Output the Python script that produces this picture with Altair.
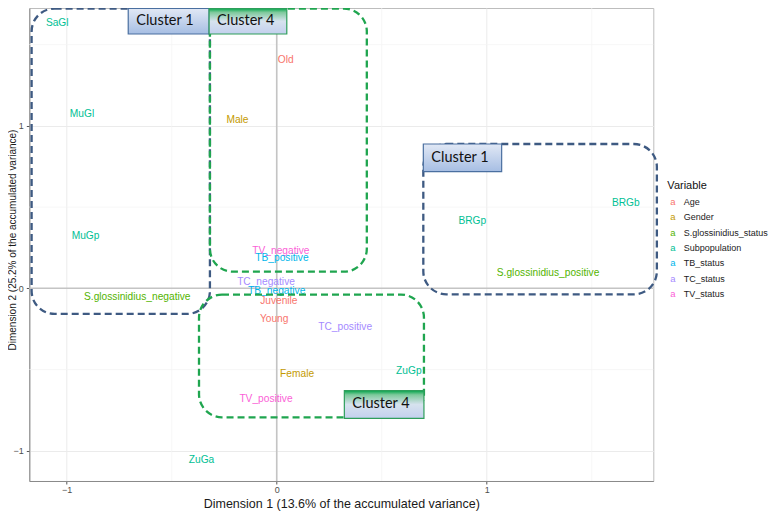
import altair as alt
import pandas as pd

# ---- data ----
labels = ["SaGl", "MuGl", "MuGp", "Old", "Male", "TV_negative", "TB_positive",
          "TC_negative", "TB_negative", "Juvenile", "Young", "TC_positive",
          "Female", "ZuGp", "TV_positive", "ZuGa", "S.glossinidius_negative",
          "BRGp", "BRGb", "S.glossinidius_positive"]
dim1 = [-1.045, -0.927, -0.910, 0.043, -0.187, 0.020, 0.025, -0.051, 0.000, 0.010,
        -0.012, 0.326, 0.097, 0.629, -0.051, -0.358, -0.664, 0.931, 1.662, 1.292]
dim2 = [1.631, 1.071, 0.324, 1.403, 1.038, 0.231, 0.185, 0.037, -0.015, -0.080,
        -0.191, -0.236, -0.526, -0.507, -0.681, -1.057, -0.052, 0.414, 0.527, 0.092]
variables = ["Subpopulation", "Subpopulation", "Subpopulation", "Age", "Gender",
             "TV_status", "TB_status", "TC_status", "TB_status", "Age", "Age",
             "TC_status", "Gender", "Subpopulation", "TV_status", "Subpopulation",
             "S.glossinidius_status", "Subpopulation", "Subpopulation",
             "S.glossinidius_status"]

legend_vars = ["Age", "Gender", "S.glossinidius_status", "Subpopulation",
               "TB_status", "TC_status", "TV_status"]
palette = ["#F8766D", "#C49A00", "#53B400", "#00C094", "#00B6EB", "#A58AFF", "#FB61D7"]

# cluster outlines (data units)
outline_group = ["blue", "green", "green", "blue"]
outline_x1 = [-1.167, -0.318, -0.370, 0.698]
outline_x2 = [-0.318, 0.429, 0.701, 1.810]
outline_y1 = [1.722, 1.722, -0.039, 0.888]
outline_y2 = [-0.158, 0.102, -0.794, -0.037]

# cluster tags (data units)
tag_text = ["Cluster 1", "Cluster 4", "Cluster 1", "Cluster 4"]
tag_group = ["blue", "green", "blue", "green"]
tag_x1 = [-0.707, -0.322, 0.698, 0.322]
tag_x2 = [-0.322, 0.048, 1.071, 0.701]
tag_y1 = [1.722, 1.722, 0.888, -0.630]
tag_y2 = [1.565, 1.565, 0.718, -0.800]

minor_breaks = [-0.5, 0.5, 1.5]
major_breaks = [-1, 0, 1]

x_title = "Dimension 1 (13.6% of the accumulated variance)"
y_title = "Dimension 2 (25.2% of the accumulated variance)"

# ---- tables ----
pts = pd.DataFrame({"label": labels, "d1": dim1, "d2": dim2, "variable": variables})
outlines = pd.DataFrame({"g": outline_group, "x1": outline_x1, "x2": outline_x2,
                         "y1": outline_y1, "y2": outline_y2})
tags = pd.DataFrame({"text": tag_text, "g": tag_group, "x1": tag_x1, "x2": tag_x2,
                     "y1": tag_y1, "y2": tag_y2})
tags["ym"] = (tags["y1"] + tags["y2"]) / 2
minor = pd.DataFrame({"v": minor_breaks})
zero = pd.DataFrame({"v": [0]})
leg = pd.DataFrame({"variable": legend_vars, "i": list(range(len(legend_vars)))})

xs = alt.Scale(domain=[-1.178, 1.793], nice=False, zero=False)
ys = alt.Scale(domain=[-1.186, 1.725], nice=False, zero=False)
cs = alt.Scale(domain=legend_vars, range=palette)

FONT = "Liberation Sans"

xaxis = alt.Axis(values=major_breaks, title=x_title, labelPadding=2, titlePadding=3,
                 tickSize=3, format="d", titleFontSize=12.5)
yaxis = alt.Axis(values=major_breaks, title=y_title, labelPadding=3, tickSize=3,
                 format="d", titleX=-16.5, titleY=231.5, titleAngle=270,
                 titleAlign="center", titleBaseline="middle", titleFontSize=10)

base_x = alt.X("d1:Q", scale=xs, axis=xaxis)
base_y = alt.Y("d2:Q", scale=ys, axis=yaxis)

minor_x = alt.Chart(minor).mark_rule(color="#f4f4f4", strokeWidth=0.7).encode(
    x=alt.X("v:Q", scale=xs))
minor_y = alt.Chart(minor).mark_rule(color="#f4f4f4", strokeWidth=0.7).encode(
    y=alt.Y("v:Q", scale=ys))
zero_x = alt.Chart(zero).mark_rule(color="#c4c4c4", strokeWidth=1.6).encode(
    x=alt.X("v:Q", scale=xs))
zero_y = alt.Chart(zero).mark_rule(color="#c4c4c4", strokeWidth=1.6).encode(
    y=alt.Y("v:Q", scale=ys))

texts = alt.Chart(pts).mark_text(font=FONT, fontSize=10.2).encode(
    x=base_x, y=base_y, text="label:N",
    color=alt.Color("variable:N", scale=cs, legend=None))

outline_blue = alt.Chart(outlines).transform_filter(alt.datum.g == "blue").mark_rect(
    fillOpacity=0, stroke="#3E5A82", strokeWidth=2.3, strokeDash=[7, 4],
    cornerRadius=23).encode(x=alt.X("x1:Q", scale=xs), x2="x2:Q",
                            y=alt.Y("y1:Q", scale=ys), y2="y2:Q")
outline_green = alt.Chart(outlines).transform_filter(alt.datum.g == "green").mark_rect(
    fillOpacity=0, stroke="#1FA54F", strokeWidth=2.3, strokeDash=[7, 4],
    cornerRadius=23).encode(x=alt.X("x1:Q", scale=xs), x2="x2:Q",
                            y=alt.Y("y1:Q", scale=ys), y2="y2:Q")

blue_grad = alt.Gradient(gradient="linear", x1=0, x2=0, y1=0, y2=1, stops=[
    alt.GradientStop(color="#E1E8F5", offset=0),
    alt.GradientStop(color="#A6BEE3", offset=1)])
green_grad = alt.Gradient(gradient="linear", x1=0, x2=0, y1=0, y2=1, stops=[
    alt.GradientStop(color="#06A64C", offset=0),
    alt.GradientStop(color="#7DC99B", offset=0.15),
    alt.GradientStop(color="#D6E2EE", offset=0.5),
    alt.GradientStop(color="#C3D0EE", offset=1)])

tag_blue = alt.Chart(tags).transform_filter(alt.datum.g == "blue").mark_rect(
    fill=blue_grad, stroke="#4A6FA0", strokeWidth=1.2).encode(
    x=alt.X("x1:Q", scale=xs), x2="x2:Q", y=alt.Y("y1:Q", scale=ys), y2="y2:Q")
tag_green = alt.Chart(tags).transform_filter(alt.datum.g == "green").mark_rect(
    fill=green_grad, stroke="#2E9E5B", strokeWidth=1.2).encode(
    x=alt.X("x1:Q", scale=xs), x2="x2:Q", y=alt.Y("y1:Q", scale=ys), y2="y2:Q")
tag_text_layer = alt.Chart(tags).mark_text(
    font="Lato", fontSize=14.5, align="left", dx=8, color="#111111").encode(
    x=alt.X("x1:Q", scale=xs), y=alt.Y("ym:Q", scale=ys), text="text:N")

# legend (drawn from the variable list)
leg_base = alt.Chart(leg).transform_calculate(ly="0.533 - datum.i * 0.095")
leg_glyph = leg_base.mark_text(font=FONT, fontSize=9.5).encode(
    x=alt.datum(1.886, scale=xs), y=alt.Y("ly:Q", scale=ys), text=alt.value("a"),
    color=alt.Color("variable:N", scale=cs, legend=None))
leg_label = leg_base.mark_text(font=FONT, fontSize=9.0, align="left",
                               color="#222222").encode(
    x=alt.datum(1.938, scale=xs), y=alt.Y("ly:Q", scale=ys), text="variable:N")
leg_title = alt.Chart(pd.DataFrame({"t": ["Variable"]})).mark_text(
    font=FONT, fontSize=11, align="left", color="#111111").encode(
    x=alt.datum(1.860, scale=xs), y=alt.datum(0.631, scale=ys), text="t:N")

chart = alt.layer(
    minor_x, minor_y, zero_x, zero_y, texts, outline_blue, outline_green,
    tag_blue, tag_green, tag_text_layer, leg_glyph, leg_label, leg_title
).properties(
    width=624, height=473,
    autosize=alt.AutoSizeParams(type="none"),
    padding={"left": 21.3, "top": 0, "right": 116, "bottom": 30}
).configure_view(
    stroke="#bdbdbd", strokeWidth=1
).configure_axis(
    labelFont=FONT, labelFontSize=9, labelColor="#4D4D4D",
    titleFont=FONT, titleFontSize=11.5, titleColor="#1A1A1A", titleFontWeight="normal",
    tickColor="#555555", domainColor="#8a8a8a", gridColor="#ebebeb", gridWidth=1
)

chart.save("out.html", embed_options={"renderer": "svg", "actions": False})
